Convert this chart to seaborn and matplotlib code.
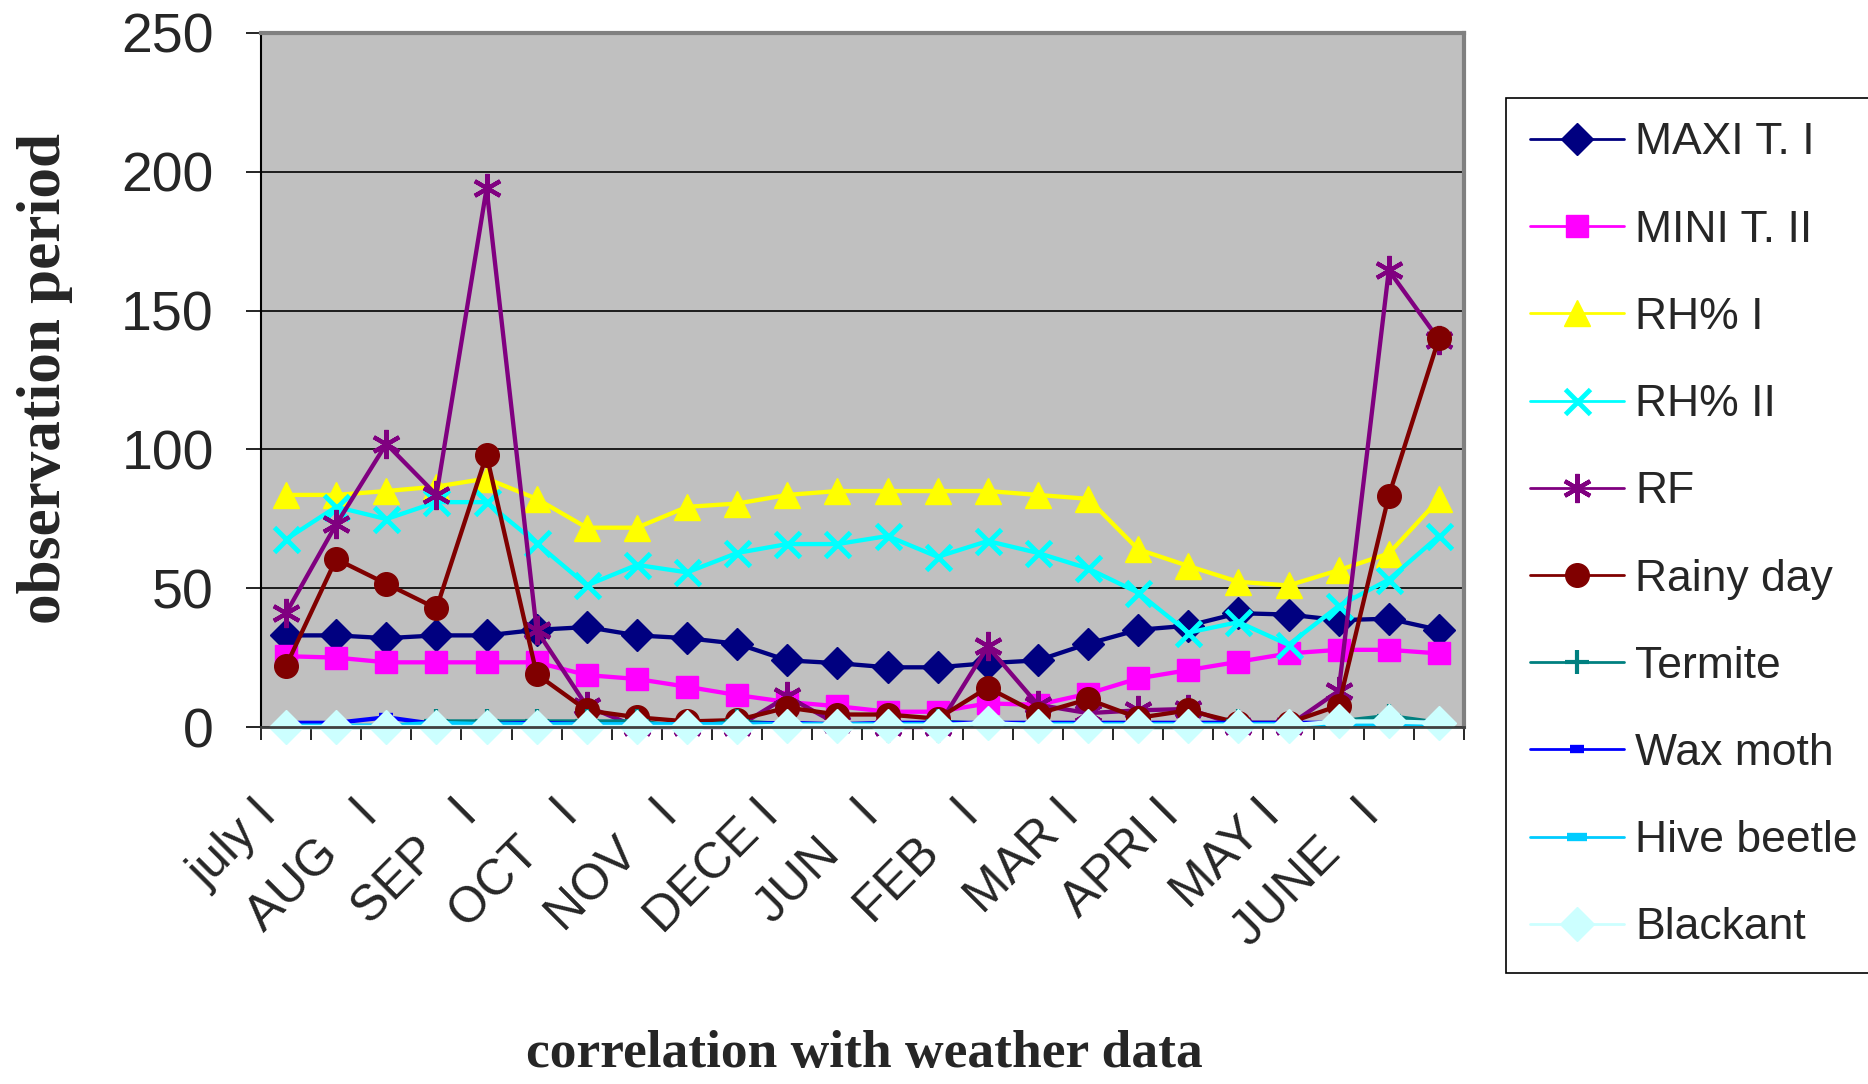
import numpy as np
import pandas as pd
import seaborn as sns
import matplotlib
matplotlib.use("Agg")
import matplotlib.pyplot as plt
from matplotlib.transforms import ScaledTranslation

# ---------------- data ----------------
periods = ["july I", "july II", "AUG   I", "AUG   II", "SEP   I", "SEP   II",
           "OCT   I", "OCT   II", "NOV   I", "NOV   II", "DECE I", "DECE II",
           "JUN   I", "JUN   II", "FEB   I", "FEB   II", "MAR I", "MAR II",
           "APRI I", "APRI II", "MAY I", "MAY II", "JUNE   I", "JUNE   II"]
tick_labels = ["july I", "AUG   I", "SEP   I", "OCT   I", "NOV   I", "DECE I",
               "JUN   I", "FEB   I", "MAR I", "APRI I", "MAY I", "JUNE   I"]

maxi_t = [33, 33, 32, 33, 33, 35, 36, 33, 32, 30, 24, 23,
          21.5, 21.5, 23, 24, 30, 35, 36.5, 41, 40.5, 38.5, 39, 35]
mini_t = [25.5, 25, 23.3, 23.3, 23.3, 23.3, 18.7, 17.3, 14.5, 11.5, 9, 7.5,
          5.5, 5.5, 8.5, 8, 12, 17.5, 20.5, 23.5, 26.5, 27.8, 27.8, 26.5]
rh_1 = [83.6, 83.6, 85, 86.6, 89.5, 82.2, 71.8, 71.8, 79.3, 80.5, 83.6, 85,
        85, 85, 85, 83.6, 82.2, 64, 58, 52.3, 51, 56.5, 62.5, 82]
rh_2 = [67.6, 79.3, 74.9, 81, 81, 66.2, 51, 58.4, 55.7, 62.7, 65.9, 65.9,
        68.8, 61.3, 67, 62.7, 57.1, 48.4, 34, 37.8, 29.6, 43.6, 53.1, 68.8]
rf = [41, 73, 102, 83.6, 194, 34.8, 7.5, 0, 0, 0, 11, 1,
      0, 0, 29, 8, 5, 6, 6.5, 0.5, 0.5, 13, 164.5, 139.5]
rainy_day = [22, 60.5, 51.6, 42.7, 98, 19, 6, 3.5, 2, 2.5, 7, 4.5,
             4.5, 3, 14.2, 4.8, 10, 3.3, 6, 1.5, 1.5, 7.7, 83.3, 140]
termite = [0, 0, 0, 2, 2, 2, 2, 2, 0, 2, 1, 0,
           0, 2, 1, 0, 1, 0, 0, 2, 0, 2, 4, 1.5]
wax_moth = [1.5, 1.5, 3.5, 1, 1, 1.5, 1, 1, 1, 1, 1.5, 1,
            1.5, 1.5, 1.5, 1.5, 1.5, 1.5, 1.5, 1.5, 1.5, 1.5, 1.5, 1.5]
hive_beetle = [0.5, 0.5, 0.5, 1.5, 1, 1, 1, 1, 1, 1, 1, 1,
               1, 1, 1, 1, 1, 1, 1, 1, 1, 1, 1, 1]
blackant = [0, 0, 0, 0, 0, 0, 0, 0, 0, 0, 0.5, 0.5,
            0.5, 0.5, 1.5, 0.5, 0.5, 0.5, 0.5, 0.5, 0.5, 2, 2, 1.5]

series_names = ["MAXI T. I", "MINI T. II", "RH% I", "RH% II", "RF",
                "Rainy day", "Termite", "Wax moth", "Hive beetle", "Blackant"]
series_values = [maxi_t, mini_t, rh_1, rh_2, rf, rainy_day, termite,
                 wax_moth, hive_beetle, blackant]

# ---------------- styles ----------------
styles = {
    "MAXI T. I":   dict(color="#000080", marker="D", markersize=16),
    "MINI T. II":  dict(color="#FF00FF", marker="s", markersize=16),
    "RH% I":       dict(color="#FFFF00", marker="^", markersize=19),
    "RH% II":      dict(color="#00FFFF", marker="x", markersize=18, markeredgewidth=3.5),
    "RF":          dict(color="#800080", marker=(6, 2, 0), markersize=21, markeredgewidth=3),
    "Rainy day":   dict(color="#800000", marker="o", markersize=17),
    "Termite":     dict(color="#008080", marker="+", markersize=17, markeredgewidth=3),
    "Wax moth":    dict(color="#0000FF", marker="_", markersize=10, markeredgewidth=6),
    "Hive beetle": dict(color="#00CCFF", marker="_", markersize=14, markeredgewidth=6),
    "Blackant":    dict(color="#CCFFFF", marker="D", markersize=17),
}

sns.set_theme(style="white")
plt.rcParams["font.family"] = ["Liberation Sans", "DejaVu Sans"]

W, H = 1868, 1084
fig = plt.figure(figsize=(W / 100, H / 100), dpi=100)
left, right, top, bottom = 261, 1464, 33, 727
ax = fig.add_axes([left / W, 1 - bottom / H, (right - left) / W, (bottom - top) / H])
ax.set_facecolor("#C0C0C0")

x = np.arange(len(periods))
for name, vals in zip(series_names, series_values):
    st = dict(styles[name])
    col = st.pop("color")
    st.setdefault("markeredgewidth", 1)
    sns.lineplot(x=x, y=vals, ax=ax, label=name, color=col, linewidth=3.1,
                 markeredgecolor=col, markerfacecolor=col, clip_on=False, **st)

ax.set_xlim(-0.5, len(periods) - 0.5)
ax.set_ylim(0, 250)
ax.set_yticks(np.arange(0, 251, 50))
ax.yaxis.grid(True, color="black", linewidth=1.2)
ax.xaxis.grid(False)
ax.set_axisbelow(True)

ax.tick_params(axis="y", direction="out", length=11, width=1.2, color="black",
               labelsize=40, pad=23, left=True)
ax.set_xticks(np.arange(0, len(periods), 2))
ax.set_xticklabels(tick_labels)
ax.set_xticks(np.arange(-0.5, len(periods), 1), minor=True)
ax.tick_params(axis="x", which="major", length=0, labelsize=36, pad=58)
ax.tick_params(axis="x", which="minor", direction="out", length=9, width=1.2,
               color="black", bottom=True)
offset = ScaledTranslation(-16 / 100, 0, fig.dpi_scale_trans)
for lab in ax.get_xticklabels():
    lab.set_rotation(45)
    lab.set_ha("right")
    lab.set_va("center")
    lab.set_rotation_mode("anchor")
    lab.set_transform(lab.get_transform() + offset)

for s in ["top", "right"]:
    ax.spines[s].set_color("#808080")
    ax.spines[s].set_linewidth(3)
ax.spines["left"].set_color("black")
ax.spines["left"].set_linewidth(1.5)
ax.spines["bottom"].set_color("#404040")
ax.spines["bottom"].set_linewidth(2)

ax.set_xlabel("")
ax.set_ylabel("")
fig.text(45 / W, 1 - 379 / H, "observation period", rotation=90,
         ha="center", va="center", fontsize=44, fontweight="bold",
         family=["Liberation Serif", "DejaVu Serif"])
fig.text(864 / W, 1 - 1054 / H, "correlation with weather data",
         ha="center", va="center", fontsize=38.5, fontweight="bold",
         family=["Liberation Serif", "DejaVu Serif"])

leg = ax.legend(loc="upper left", bbox_to_anchor=(1506 / W, 1 - 98 / H),
                bbox_transform=fig.transFigure, fontsize=32, frameon=True,
                fancybox=False, framealpha=1, edgecolor="black",
                borderaxespad=0, borderpad=0.55, labelspacing=1.04,
                handlelength=2.1, handletextpad=0.25)
leg.get_frame().set_linewidth(1.2)
for h in leg.get_lines():
    h.set_linewidth(2)

fig.savefig("out.png", dpi=100, facecolor="white")
